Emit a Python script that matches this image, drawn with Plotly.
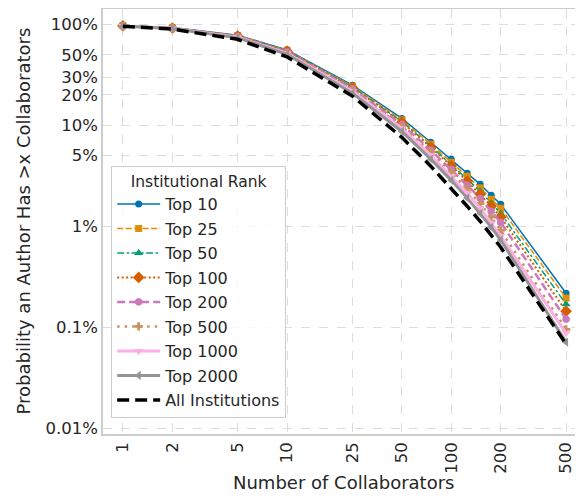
import plotly.graph_objects as go

collaborators = [1, 2, 5, 10, 25, 50, 75, 100, 125, 150, 175, 200, 500]

top10 = [97, 93, 78, 56, 25, 11.7, 6.8, 4.6, 3.35, 2.6, 2.03, 1.65, 0.217]
top25 = [97, 92.6, 77.5, 55.4, 24.4, 11.3, 6.5, 4.3, 3.13, 2.4, 1.85, 1.51, 0.194]
top50 = [97, 92.4, 76.9, 54.7, 23.9, 10.9, 6.2, 4.1, 2.92, 2.22, 1.69, 1.34, 0.169]
top100 = [97, 92.2, 76.6, 54.1, 23.6, 10.7, 6.07, 3.97, 2.79, 2.07, 1.58, 1.23, 0.144]
top200 = [96.5, 92, 76.2, 53.5, 23.1, 10.2, 5.66, 3.66, 2.55, 1.89, 1.41, 1.09, 0.12]
top500 = [96.5, 91.7, 75.3, 52.3, 22.3, 9.75, 5.41, 3.42, 2.32, 1.68, 1.23, 0.91, 0.095]
top1000 = [96.3, 91.3, 74.5, 51.7, 21.8, 9.3, 5.05, 3.12, 2.12, 1.51, 1.07, 0.80, 0.087]
top2000 = [96.3, 90.9, 73.6, 50.5, 20.8, 8.7, 4.62, 2.85, 1.9, 1.34, 0.98, 0.73, 0.071]
all_inst = [96, 89.8, 71.2, 47.7, 19.5, 7.6, 3.94, 2.37, 1.58, 1.12, 0.82, 0.62, 0.068]

x_ticks = [1, 2, 5, 10, 25, 50, 100, 200, 500]
y_ticks = [0.01, 0.1, 1, 5, 10, 20, 30, 50, 100]
y_ticktext = ["0.01%", "0.1%", "1%", "5%", "10%", "20%", "30%", "50%", "100%"]

series = [
    ("Top 10", top10, "#0173b2", "solid", 1.5, "circle", 7),
    ("Top 25", top25, "#de8f05", "6px,2.5px", 1.5, "square", 7),
    ("Top 50", top50, "#029e73", "7px,2.5px,2.5px,2.5px", 1.5, "triangle-up", 8),
    ("Top 100", top100, "#d55e00", "2px,2.5px", 2, "diamond", 9),
    ("Top 200", top200, "#cc78bc", "8px,4px", 2.5, "octagon", 8),
    ("Top 500", top500, "#ca9161", "2.5px,5px", 2.5, "cross", 7),
    ("Top 1000", top1000, "#fbafe4", "solid", 3, "triangle-down", 8),
    ("Top 2000", top2000, "#949494", "solid", 3, "triangle-left", 8),
]

fig = go.Figure()
for name, vals, color, dash, width, symbol, msize in series:
    fig.add_trace(go.Scatter(
        x=collaborators, y=vals, name=name, mode="lines+markers",
        line=dict(color=color, dash=dash, width=width),
        marker=dict(symbol=symbol, size=msize, color=color),
        legendgroup=name,
    ))
fig.add_trace(go.Scatter(
    x=collaborators, y=all_inst, name="All Institutions", mode="lines",
    line=dict(color="black", dash="12px,6px", width=3.5),
    legendgroup="All",
))

# The page body has an 8px margin, so the figure is sized to fill the rest of the window.
font_family = "DejaVu Sans, Liberation Sans, sans-serif"
fig.update_layout(
    width=575, height=490,
    margin=dict(l=95, r=0, t=1, b=64, autoexpand=False),
    paper_bgcolor="white", plot_bgcolor="white",
    font=dict(family=font_family, size=16, color="#262626"),
    showlegend=True,
    legend=dict(
        title=dict(text="Institutional Rank", side="top center", font=dict(size=15.5)),
        x=0.017, xanchor="left", y=0.038, yanchor="bottom",
        bgcolor="rgba(255,255,255,0.85)", bordercolor="#cccccc", borderwidth=1,
        font=dict(size=16), tracegroupgap=0.7, itemwidth=43,
    ),
    xaxis=dict(
        type="log", range=[-0.121, 2.802], automargin=False,
        tickvals=x_ticks, ticktext=[str(v) for v in x_ticks], tickangle=-90,
        showgrid=True, gridcolor="#dcdcdc", griddash="dash", gridwidth=1,
        showline=True, linecolor="#cccccc", linewidth=1.5, mirror=True,
        ticks="", zeroline=False,
        tickfont=dict(size=16.5),
    ),
    yaxis=dict(
        type="log", range=[-2.059, 2.153], automargin=False,
        tickvals=y_ticks, ticktext=y_ticktext,
        showgrid=True, gridcolor="#dcdcdc", griddash="dash", gridwidth=1,
        showline=True, linecolor="#cccccc", linewidth=1.5,
        ticks="", zeroline=False,
        tickfont=dict(size=16.5),
    ),
    annotations=[
        dict(text="Number of Collaborators", xref="paper", yref="paper",
             x=0.5, y=0, yshift=-48, xanchor="center", yanchor="middle",
             showarrow=False, font=dict(size=18)),
        dict(text="Probability an Author Has >x Collaborators", xref="paper", yref="paper",
             x=0, y=0.5, xshift=-80, xanchor="center", yanchor="middle", textangle=-90,
             showarrow=False, font=dict(size=18)),
    ],
)

fig.write_html("out.html")
